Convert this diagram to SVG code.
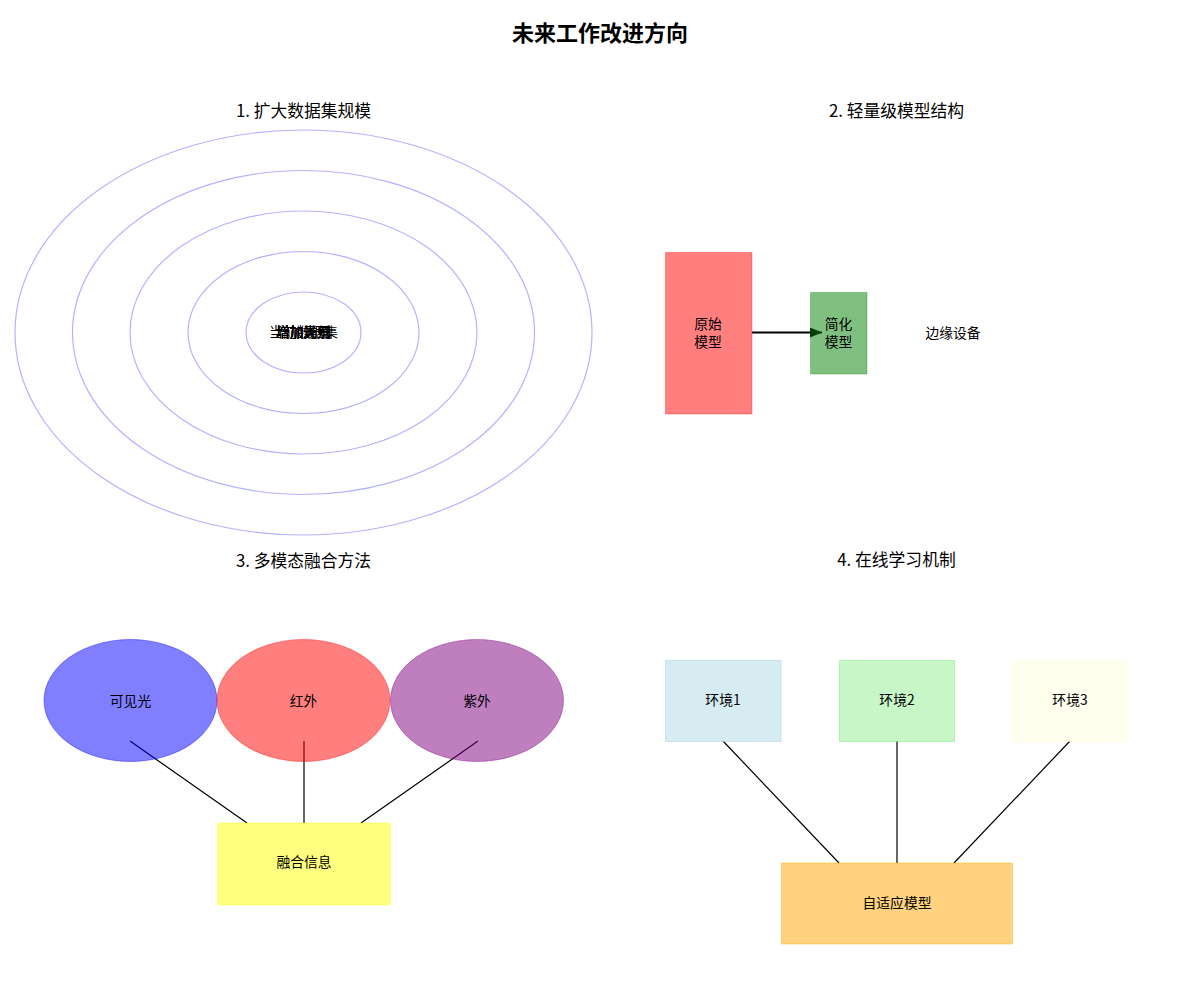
<svg xmlns="http://www.w3.org/2000/svg" width="1200" height="1000" viewBox="0 0 1200 1000">
<defs>
<style>
text{font-family:"Noto Sans CJK SC","Noto Sans",sans-serif;fill:#000;text-anchor:middle;dominant-baseline:central}
.title{font-size:22px;font-weight:bold}
.sub{font-size:16.8px}
.lbl{font-size:13.8px}
.ring{fill:none;stroke:#0000ff;stroke-opacity:0.3;stroke-width:1.2}
.conn{stroke:#000;stroke-width:1.2;fill:none}
</style>
<marker id="ah" markerWidth="12" markerHeight="10" refX="12" refY="5" orient="auto" markerUnits="userSpaceOnUse">
<path d="M0,0 L12,5 L0,10 Z" fill="#000"/>
</marker>
</defs>
<rect width="1200" height="1000" fill="#fff"/>
<text class="title" x="600" y="31">未来工作改进方向</text>
<text class="sub" x="303.5" y="110">1. 扩大数据集规模</text>
<text class="sub" x="896.5" y="110">2. 轻量级模型结构</text>
<text class="sub" x="303.5" y="560">3. 多模态融合方法</text>
<text class="sub" x="896.5" y="559">4. 在线学习机制</text>

<g id="rings">
<ellipse class="ring" cx="303.5" cy="332.5" rx="288.5" ry="202.5"/>
<ellipse class="ring" cx="303.5" cy="332.5" rx="231" ry="162"/>
<ellipse class="ring" cx="303.5" cy="332.5" rx="173.5" ry="121.5"/>
<ellipse class="ring" cx="303.5" cy="332.5" rx="115.5" ry="81"/>
<ellipse class="ring" cx="303.5" cy="332.5" rx="57.5" ry="40.5"/>
<text class="lbl" x="303.5" y="331">当前数据集</text>
<text class="lbl" x="303.5" y="331">增加场景</text>
<text class="lbl" x="303.5" y="331">增加天气</text>
<text class="lbl" x="303.5" y="331">增加光照</text>
<text class="lbl" x="303.5" y="331">增加类别</text>
</g>

<g id="connectors">
<line x1="752" y1="332.5" x2="822" y2="332.5" stroke="#000" stroke-width="1.8" marker-end="url(#ah)"/>
<line class="conn" x1="130" y1="741" x2="247" y2="823"/>
<line class="conn" x1="304" y1="741" x2="304" y2="823"/>
<line class="conn" x1="478" y1="741" x2="361" y2="823"/>
<line class="conn" x1="723" y1="741" x2="839" y2="863"/>
<line class="conn" x1="897" y1="741" x2="897" y2="863"/>
<line class="conn" x1="1070" y1="741" x2="954" y2="863"/>
</g>

<g id="original-model">
<rect x="665.5" y="252.5" width="86.5" height="161.5" fill="#ff0000" fill-opacity="0.5" stroke="#ff0000" stroke-opacity="0.3"/>
<text class="lbl" x="708" y="323">原始</text>
<text class="lbl" x="708" y="341">模型</text>
</g>
<g id="simplified-model">
<rect x="810.5" y="292.5" width="56.5" height="81.5" fill="#008000" fill-opacity="0.5" stroke="#008000" stroke-opacity="0.3"/>
<text class="lbl" x="838.5" y="323">简化</text>
<text class="lbl" x="838.5" y="341">模型</text>
</g>
<g id="edge-device">
<text class="lbl" x="953" y="332">边缘设备</text>
</g>

<g id="visible">
<ellipse cx="130.5" cy="700.5" rx="86.5" ry="61" fill="#0000ff" fill-opacity="0.5" stroke="#0000ff" stroke-opacity="0.4"/>
<text class="lbl" x="130.5" y="700">可见光</text>
</g>
<g id="infrared">
<ellipse cx="303.5" cy="700.5" rx="86.5" ry="61" fill="#ff0000" fill-opacity="0.5" stroke="#ff0000" stroke-opacity="0.4"/>
<text class="lbl" x="303.5" y="700">红外</text>
</g>
<g id="ultraviolet">
<ellipse cx="477" cy="700.5" rx="86.5" ry="61" fill="#800080" fill-opacity="0.5" stroke="#800080" stroke-opacity="0.4"/>
<text class="lbl" x="477" y="700">紫外</text>
</g>
<g id="fusion">
<rect x="217.5" y="823" width="173" height="82" fill="#ffff00" fill-opacity="0.5" stroke="#ffff00" stroke-opacity="0.3"/>
<text class="lbl" x="304" y="861">融合信息</text>
</g>

<g id="env1">
<rect x="665.5" y="660.5" width="115.5" height="81" fill="#add8e6" fill-opacity="0.5" stroke="#add8e6" stroke-opacity="0.6"/>
<text class="lbl" x="723" y="699">环境1</text>
</g>
<g id="env2">
<rect x="839.5" y="660.5" width="115" height="81" fill="#90ee90" fill-opacity="0.5" stroke="#90ee90" stroke-opacity="0.6"/>
<text class="lbl" x="897" y="699">环境2</text>
</g>
<g id="env3">
<rect x="1012.5" y="660.5" width="115.5" height="81" fill="#ffffe0" fill-opacity="0.5" stroke="#ffffe0" stroke-opacity="0.6"/>
<text class="lbl" x="1070" y="699">环境3</text>
</g>
<g id="adaptive-model">
<rect x="781.5" y="863" width="231" height="81" fill="#ffa500" fill-opacity="0.5" stroke="#ffa500" stroke-opacity="0.4"/>
<text class="lbl" x="897" y="902">自适应模型</text>
</g>
</svg>
